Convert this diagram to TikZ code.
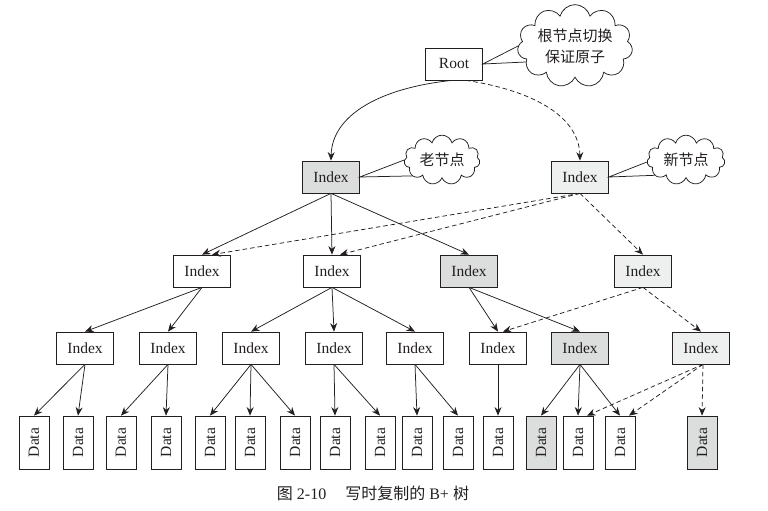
\documentclass[tikz,border=0pt]{standalone}
\usepackage{fontspec}
\setmainfont{Liberation Serif}
\newfontfamily\cjk{Noto Sans CJK SC}
\usetikzlibrary{arrows.meta,shapes.symbols}
\definecolor{ln}{RGB}{35,31,32}
\definecolor{oldg}{RGB}{220,221,221}
\definecolor{newg}{RGB}{238,240,240}
\tikzset{
  box/.style={draw=ln, line width=0.75pt, minimum width=57pt, minimum height=32pt, inner sep=0pt, font=\fontsize{15.5}{17}\selectfont, text=ln},
  oldbox/.style={box, fill=oldg},
  newbox/.style={box, fill=newg},
  databox/.style={draw=ln, line width=0.75pt, minimum width=30pt, minimum height=53pt, inner sep=0pt, font=\fontsize{15.5}{17}\selectfont, text=ln},
  olddata/.style={databox, fill=oldg},
  lk/.style={draw=ln, line width=0.75pt, -{Stealth[length=8.5pt,width=7pt]}},
  dl/.style={lk, dash pattern=on 4.5pt off 3pt},
  callout/.style={draw=ln, line width=0.75pt},
  bubble/.style={cloud, draw=ln, line width=0.75pt, cloud puffs=11, aspect=1.7, inner sep=0pt, font=\cjk\fontsize{15}{21}\selectfont, text=ln, align=center}
}
\newcommand{\dtext}{\rotatebox{90}{Data}}
\begin{document}
\begin{tikzpicture}[x=1pt,y=-1pt]
\useasboundingbox (0,0) rectangle (768,511);
% level 0
\node[box] (root) at (454,64) {Root};
% level 1
\node[oldbox] (a0) at (331,177) {Index};
\node[newbox] (a1) at (580,177) {Index};
% clouds
\node[bubble, minimum width=108pt, minimum height=64pt] (c1) at (575,46) {根节点切换\\保证原子};
\node[bubble, minimum width=76pt, minimum height=46pt] (c2) at (442,160) {老节点};
\node[bubble, minimum width=78pt, minimum height=46pt] (c3) at (686,160) {新节点};
% level 2
\node[box] (b0) at (202,271) {Index};
\node[box] (b1) at (332,271) {Index};
\node[oldbox] (b2) at (469,271) {Index};
\node[newbox] (b3) at (643,271) {Index};
% level 3
\node[box] (e0) at (85,348) {Index};
\node[box] (e1) at (168,348) {Index};
\node[box] (e2) at (251,348) {Index};
\node[box] (e3) at (334,348) {Index};
\node[box] (e4) at (415,348) {Index};
\node[box] (e5) at (498,348) {Index};
\node[oldbox] (e6) at (580,348) {Index};
\node[newbox] (e7) at (701,348) {Index};
% data
\foreach \i/\x in {0/34,1/78,2/121,3/166,4/210,5/250,6/295,7/335,8/380,9/417,10/458,11/498,13/578,14/620}
  \node[databox] (d\i) at (\x,442.5) {\dtext};
\node[olddata] (d12) at (541,442.5) {\dtext};
\node[olddata] (d15) at (702,442.5) {\dtext};
% caption
\node[font=\fontsize{16}{18}\selectfont, text=ln, inner sep=0pt] (cap) at (373,493) {{\cjk 图}\hspace{4pt}2-10\hspace{19pt}{\cjk 写时复制的}\hspace{4pt}B+\hspace{4pt}{\cjk 树}};
% callouts
\draw[callout] (c1.180) -- (root.east) -- (c1.198);
\draw[callout] (c2.180) -- (a0.east) -- (c2.208);
\draw[callout] (c3.183) -- (a1.east) -- (c3.206);
% root edges
\draw[lk] ([xshift=-2pt]root.south) .. controls (380,88) and (332,115) .. (a0.north);
\draw[dl] ([xshift=12pt]root.south) .. controls (530,90) and (579,115) .. (a1.north);
% level 1 -> 2
\draw[lk] (a0.south) -- (b0.north);
\draw[lk] (a0.south) -- (b1.north);
\draw[lk] (a0.south) -- (b2.north);
\draw[dl] (a1.south) -- ([xshift=10pt]b0.north);
\draw[dl] (a1.south) -- ([xshift=8pt]b1.north);
\draw[dl] (a1.south) -- (b3.north);
% level 2 -> 3
\draw[lk] (b0.south) -- (e0.north);
\draw[lk] (b0.south) -- (e1.north);
\draw[lk] (b1.south) -- (e2.north);
\draw[lk] (b1.south) -- (e3.north);
\draw[lk] (b1.south) -- (e4.north);
\draw[lk] (b2.south) -- (e5.north);
\draw[lk] (b2.south) -- (e6.north);
\draw[dl] (b3.south) -- ([xshift=5pt]e5.north);
\draw[dl] (b3.south) -- (e7.north);
% level 3 -> data
\draw[lk] (e0.south) -- (d0.north);
\draw[lk] (e0.south) -- (d1.north);
\draw[lk] (e1.south) -- (d2.north);
\draw[lk] (e1.south) -- (d3.north);
\draw[lk] (e2.south) -- (d4.north);
\draw[lk] (e2.south) -- (d5.north);
\draw[lk] (e2.south) -- (d6.north);
\draw[lk] (e3.south) -- (d7.north);
\draw[lk] (e3.south) -- (d8.north);
\draw[lk] (e4.south) -- (d9.north);
\draw[lk] (e4.south) -- (d10.north);
\draw[lk] (e5.south) -- (d11.north);
\draw[lk] (e6.south) -- (d12.north);
\draw[lk] (e6.south) -- (d13.north);
\draw[lk] (e6.south) -- (d14.north);
\draw[dl] ([xshift=2pt]e7.south) -- ([xshift=9pt]d13.north);
\draw[dl] ([xshift=2pt]e7.south) -- ([xshift=9pt]d14.north);
\draw[dl] ([xshift=2pt]e7.south) -- (d15.north);
\end{tikzpicture}
\end{document}
